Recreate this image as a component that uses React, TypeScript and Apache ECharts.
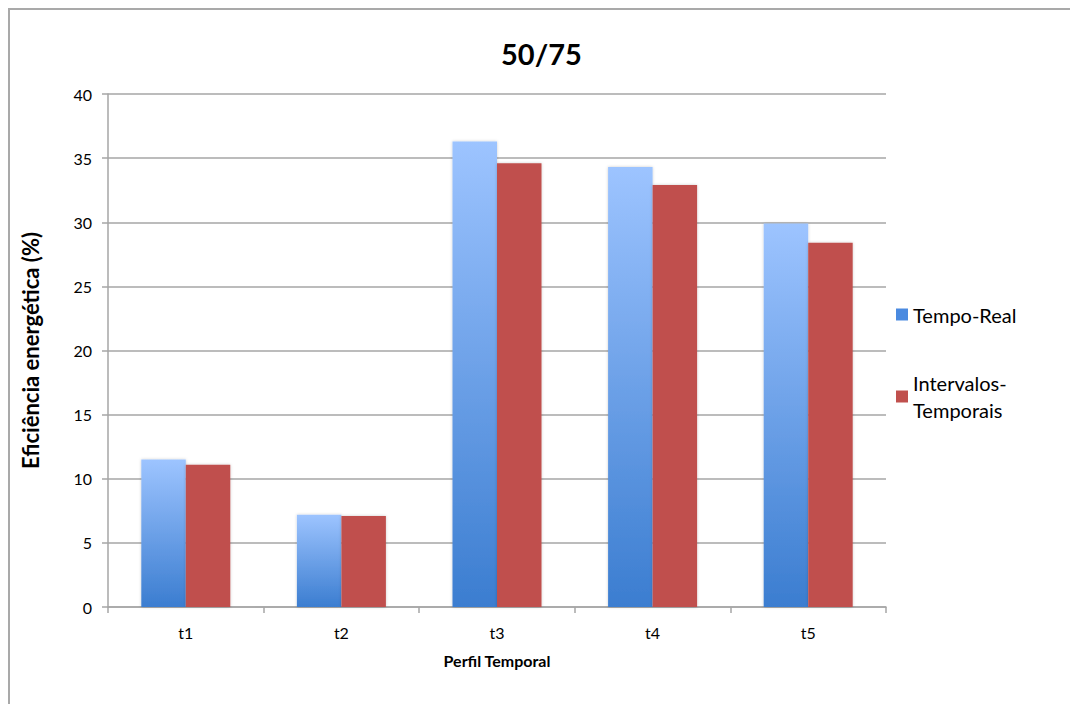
import React, { useEffect, useRef } from "react";
import * as echarts from "echarts";

const categories = ["t1", "t2", "t3", "t4", "t5"];
const tempoReal = [11.5, 7.2, 36.3, 34.3, 29.9];
const intervalosTemporais = [11.1, 7.1, 34.6, 32.9, 28.4];
const seriesNames = ["Tempo-Real", "Intervalos-Temporais"];
const yTicks = { min: 0, max: 40, interval: 5 };

const FONT = "Lato, 'Open Sans', sans-serif";

export default function App() {
  const ref = useRef<HTMLDivElement>(null);
  useEffect(() => {
    if (!ref.current) return;
    const chart = echarts.init(ref.current, undefined, { renderer: "svg" });
    const gray = "#a6a6a6";
    chart.setOption({
      animation: false,
      backgroundColor: "#ffffff",
      textStyle: { fontFamily: FONT },
      title: {
        text: "50/75",
        left: 488,
        top: 26,
        textStyle: { fontFamily: FONT, fontSize: 29, fontWeight: "bold", color: "#000" },
      },
      graphic: [
        {
          type: "polyline",
          shape: { points: [[1, 700], [1, 1], [1070, 1]] },
          style: { stroke: "#a9a9a9", lineWidth: 2, fill: "none" },
          silent: true,
        },
      ],
      legend: {
        orient: "vertical",
        left: 883,
        top: 288,
        itemWidth: 12,
        itemHeight: 12,
        itemGap: 28,
        icon: "rect",
        formatter: (name: string) => (name === "Intervalos-Temporais" ? "Intervalos-\nTemporais" : name),
        textStyle: {
          fontFamily: FONT,
          fontSize: 20,
          color: "#000",
          lineHeight: 27,
        },
        data: [
          { name: seriesNames[0], itemStyle: { color: "#4a8ae0" } },
          {
            name: seriesNames[1],
            itemStyle: { color: "#c0504d" },
            textStyle: { padding: [27, 0, 0, 0] },
          },
        ],
      },
      grid: { left: 100, top: 86, right: 184, bottom: 97, containLabel: false, outerBoundsMode: "none" },
      xAxis: {
        type: "category",
        data: categories,
        name: "Perfil Temporal",
        nameLocation: "middle",
        nameGap: 45,
        nameTextStyle: { fontFamily: FONT, fontSize: 16, fontWeight: "bold", color: "#000" },
        axisLine: { lineStyle: { color: gray, width: 1.5 } },
        axisTick: { show: true, length: 6, lineStyle: { color: gray, width: 1.5 } },
        axisLabel: { fontFamily: FONT, fontSize: 16, color: "#000", margin: 17 },
      },
      yAxis: {
        type: "value",
        min: yTicks.min,
        max: yTicks.max,
        interval: yTicks.interval,
        name: "Eficiência energética (%)",
        nameLocation: "middle",
        nameGap: 67,
        nameTextStyle: { fontFamily: FONT, fontSize: 22, fontWeight: "bold", color: "#000" },
        axisLine: { show: true, lineStyle: { color: gray, width: 1.5 } },
        axisTick: { show: true, length: 6, lineStyle: { color: gray, width: 1.5 } },
        axisLabel: { fontFamily: FONT, fontSize: 16, color: "#000", margin: 16 },
        splitLine: { lineStyle: { color: gray, width: 1.5 } },
      },
      series: [
        {
          name: seriesNames[0],
          type: "bar",
          data: tempoReal,
          barWidth: 44.5,
          barGap: "0%",
          itemStyle: {
            color: new echarts.graphic.LinearGradient(0, 0, 0, 1, [
              { offset: 0, color: "#9dc4ff" },
              { offset: 1, color: "#3b7dd0" },
            ]),
            shadowBlur: 3,
            shadowColor: "rgba(0,0,0,0.2)",
          },
        },
        {
          name: seriesNames[1],
          type: "bar",
          data: intervalosTemporais,
          barWidth: 44.5,
          barGap: "0%",
          itemStyle: {
            color: "#c0504d",
            shadowBlur: 3,
            shadowColor: "rgba(0,0,0,0.2)",
          },
        },
      ],
    });
    return () => chart.dispose();
  }, []);
  return (
    <div
      ref={ref}
      style={{ position: "absolute", left: 8, top: 8, width: 1062, height: 696 }}
    />
  );
}
